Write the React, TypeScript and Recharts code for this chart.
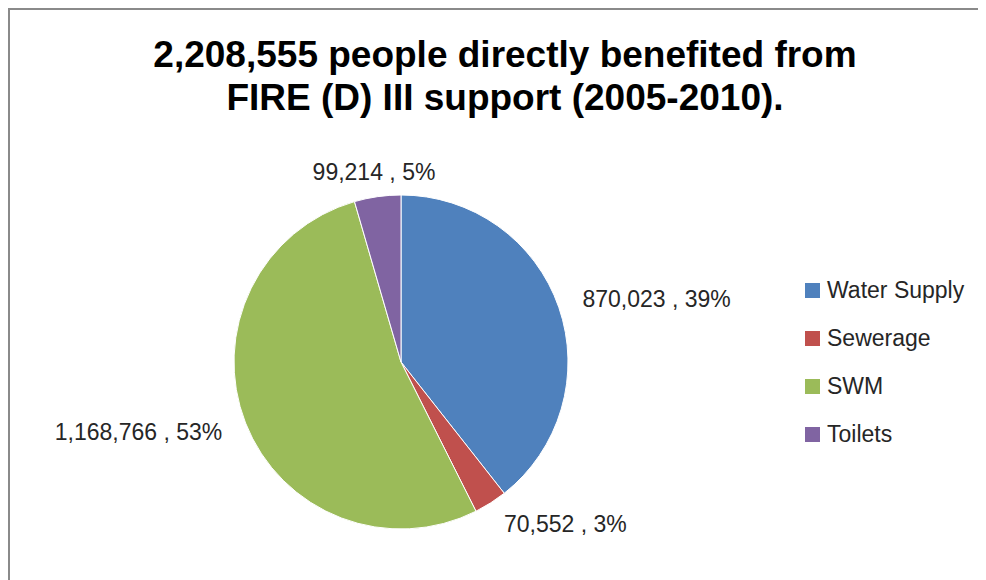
import React from "react";
import { Cell, Legend, Pie, PieChart } from "recharts";

const categories = ["Water Supply", "Sewerage", "SWM", "Toilets"];
const beneficiaries = [870023, 70552, 1168766, 99214];
const sliceColors = ["#4F81BD", "#C0504D", "#9BBB59", "#8064A2"];
const titleLines = ["2,208,555 people directly benefited from", "FIRE (D) III support (2005-2010)."];

// whole percentages that add up to 100 (largest remainder), as the source chart shows them
function roundedShares(values: number[]) {
  const total = values.reduce((a, b) => a + b, 0);
  const raw = values.map((v) => (v / total) * 100);
  const out = raw.map(Math.floor);
  let left = 100 - out.reduce((a, b) => a + b, 0);
  const order = raw.map((r, i) => i).sort((a, b) => (raw[b] - out[b]) - (raw[a] - out[a]));
  for (const i of order) {
    if (left <= 0) break;
    out[i] += 1;
    left -= 1;
  }
  return out;
}

const shares = roundedShares(beneficiaries);
const data = categories.map((name, i) => ({ name, value: beneficiaries[i], share: shares[i] }));

const RADIAN = Math.PI / 180;
const FONT = "'Liberation Sans', Arial, sans-serif";

function renderLabel(props: any) {
  const { cx, cy, midAngle, outerRadius, value, payload } = props;
  const r = outerRadius + 25;
  const cos = Math.cos(-midAngle * RADIAN);
  const sin = Math.sin(-midAngle * RADIAN);
  const x = cx + r * cos;
  const y = cy + r * sin;
  const anchor = cos > 0.3 ? "start" : cos < -0.3 ? "end" : "middle";
  const share = payload?.share ?? props.share;
  return (
    <text x={x} y={y} textAnchor={anchor} dominantBaseline="central" fill="#262626"
      fontSize={23} fontFamily={FONT}>
      {`${Number(value).toLocaleString("en-US")} , ${share}%`}
    </text>
  );
}

function renderLegend(props: any) {
  const items = [...(props.payload || [])].sort(
    (a: any, b: any) => categories.indexOf(a.value) - categories.indexOf(b.value));
  return (
    <ul style={{ listStyle: "none", margin: 0, padding: 0, fontFamily: FONT }}>
      {items.map((entry: any) => (
        <li key={entry.value} style={{ display: "flex", alignItems: "center", height: 48 }}>
          <span style={{ width: 15, height: 15, background: entry.color, marginRight: 7, display: "inline-block" }} />
          <span style={{ fontSize: 23, color: "#262626" }}>{entry.value}</span>
        </li>
      ))}
    </ul>
  );
}

export default function App() {
  return (
    <div style={{ width: 976, height: 570, borderLeft: "2px solid #8a8a8a", borderTop: "2px solid #8a8a8a",
      background: "#fff", overflow: "hidden" }}>
      <PieChart width={976} height={570} margin={{ top: 0, right: 0, bottom: 0, left: 0 }}>
        <text x={495} y={57} textAnchor="middle" fontSize={37} fontWeight="bold" fill="#000" fontFamily={FONT}>
          {titleLines[0]}
        </text>
        <text x={495} y={100} textAnchor="middle" fontSize={37} fontWeight="bold" fill="#000" fontFamily={FONT}>
          {titleLines[1]}
        </text>
        <Pie data={data} dataKey="value" nameKey="name" cx={391} cy={352} outerRadius={167}
          startAngle={90} endAngle={-270} stroke="#fff" strokeWidth={1}
          label={renderLabel} labelLine={false} isAnimationActive={false}>
          {data.map((d, i) => (
            <Cell key={d.name} fill={sliceColors[i]} />
          ))}
        </Pie>
        <Legend layout="vertical" content={renderLegend}
          wrapperStyle={{ position: "absolute", left: 795, top: 256, width: 180 }} />
      </PieChart>
    </div>
  );
}
